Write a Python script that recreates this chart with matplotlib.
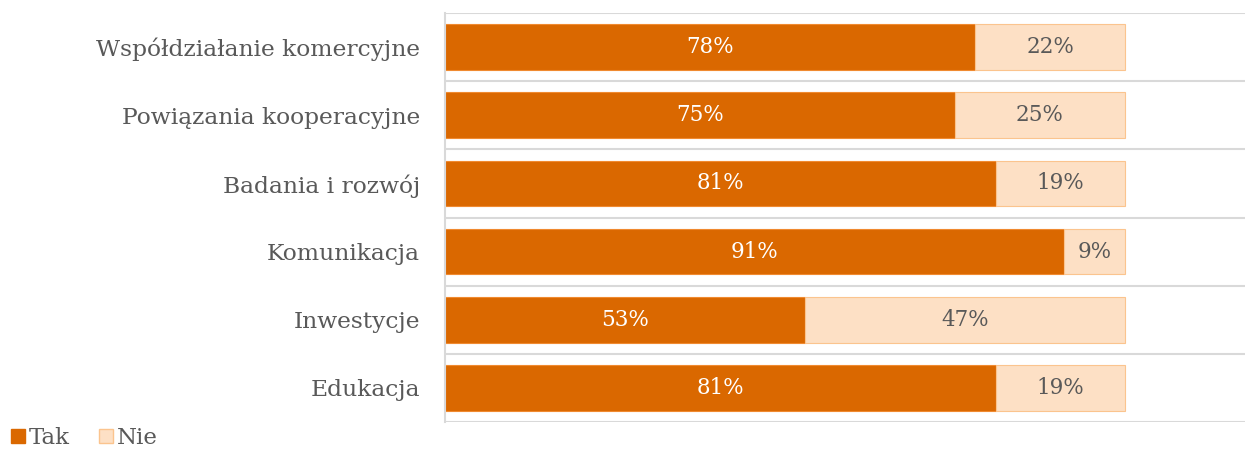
import numpy as np
from matplotlib import pyplot as plt
from matplotlib.patches import Patch

categories = ["Współdziałanie komercyjne", "Powiązania kooperacyjne", "Badania i rozwój",
              "Komunikacja", "Inwestycje", "Edukacja"]
tak = [78, 75, 81, 91, 53, 81]
nie = [22, 25, 19, 9, 47, 19]

plt.rcParams['font.family'] = ['DejaVu Serif']
c_tak = "#DA6800"
c_nie = "#FDE0C5"
c_text = "#595959"

fig = plt.figure(figsize=(12.45, 4.49), dpi=100)
ax = fig.add_axes([0.3574, 0.060, 0.6426, 0.911])

y = np.arange(len(categories))[::-1]
t = np.array(tak) / 100
n = np.array(nie) / 100
ax.barh(y, t, height=0.67, color=c_tak, edgecolor="#F08A30", linewidth=0.8)
ax.barh(y, n, left=t, height=0.67, color=c_nie, edgecolor="#FBC48E", linewidth=0.8)

for yi, a, b in zip(y, tak, nie):
    ax.text(a / 200, yi, f"{a}%", ha="center", va="center", color="white", fontsize=15.5)
    ax.text(a / 100 + b / 200, yi, f"{b}%", ha="center", va="center", color=c_text, fontsize=15.5)

ax.set_xlim(0, 1.1765)
ax.set_ylim(-0.5, len(categories) - 0.5)
ax.set_yticks(y)
ax.set_yticklabels(categories, fontsize=16.8, color=c_text)
ax.tick_params(axis="y", length=0, pad=18)
ax.set_xticks([])

# poziome linie między kategoriami
for b in np.arange(-0.5, len(categories), 1.0):
    ax.axhline(b, color="#D9D9D9", linewidth=1.5, zorder=0)
for s in ["top", "right", "bottom"]:
    ax.spines[s].set_visible(False)
ax.spines["left"].set_color("#D9D9D9")
ax.spines["left"].set_linewidth(1.5)

handles = [Patch(facecolor=c_tak, edgecolor=c_tak, label="Tak"),
           Patch(facecolor=c_nie, edgecolor="#FBC48E", label="Nie")]
fig.legend(handles=handles, loc="center left", bbox_to_anchor=(0.0, 11 / 449), ncol=2, frameon=False,
           fontsize=16.5, handlelength=0.6, handleheight=0.6, handletextpad=0.15, columnspacing=1.3,
           labelcolor=c_text, borderpad=0)

fig.savefig("out.png")
